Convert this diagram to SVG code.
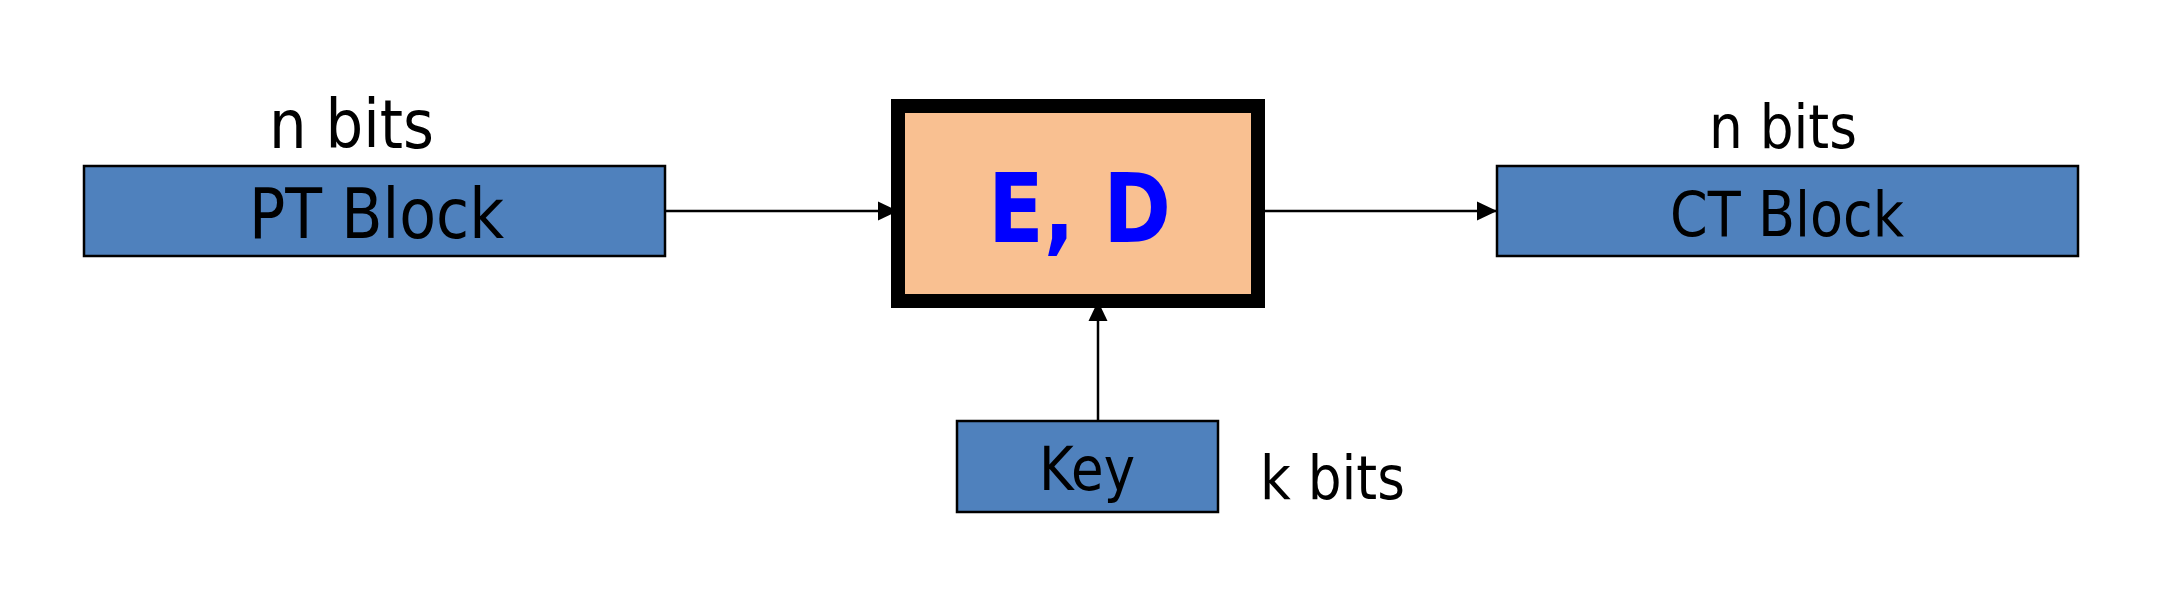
<svg xmlns="http://www.w3.org/2000/svg" width="2178" height="596" viewBox="0 0 2178 596">
<style>
.blk{fill:#4F81BD;stroke:#000;stroke-width:2.5}
.txt{font-family:"DejaVu Sans","Verdana",sans-serif;fill:#000}
.conn{stroke:#000;stroke-width:2.5;fill:none}
</style>
<defs>
<marker id="ah" markerUnits="userSpaceOnUse" markerWidth="22" markerHeight="22" refX="20" refY="10" orient="auto">
<path d="M0,0.5 L20,10 L0,19.5 Z" fill="#000"/>
</marker>
</defs>
<rect width="2178" height="596" fill="#fff"/>
<g id="connectors">
<line class="conn" x1="665" y1="211" x2="898" y2="211" marker-end="url(#ah)"/>
<line class="conn" x1="1265" y1="211" x2="1497" y2="211" marker-end="url(#ah)"/>
<line class="conn" x1="1098" y1="421" x2="1098" y2="301" marker-end="url(#ah)"/>
</g>
<g id="pt-block">
<rect class="blk" x="84" y="166" width="581" height="90"/>
<text class="txt" x="249" y="238" font-size="70" textLength="255" lengthAdjust="spacingAndGlyphs">PT Block</text>
<text class="txt" x="269" y="148" font-size="67" textLength="165" lengthAdjust="spacingAndGlyphs">n bits</text>
</g>
<g id="ed-box">
<rect x="898" y="106" width="360" height="195" fill="#F9C091" stroke="#000" stroke-width="14"/>
<text x="988" y="242" font-family="'DejaVu Sans',Verdana,sans-serif" font-weight="bold" font-size="96" fill="#0000FF" textLength="183" lengthAdjust="spacingAndGlyphs">E, D</text>
</g>
<g id="ct-block">
<rect class="blk" x="1497" y="166" width="581" height="90"/>
<text class="txt" x="1670" y="236" font-size="63" textLength="234" lengthAdjust="spacingAndGlyphs">CT Block</text>
<text class="txt" x="1709" y="148" font-size="61" textLength="148" lengthAdjust="spacingAndGlyphs">n bits</text>
</g>
<g id="key">
<rect class="blk" x="957" y="421" width="261" height="91"/>
<text class="txt" x="1039" y="490" font-size="60" textLength="96" lengthAdjust="spacingAndGlyphs">Key</text>
<text class="txt" x="1260" y="499" font-size="61" textLength="145" lengthAdjust="spacingAndGlyphs">k bits</text>
</g>
</svg>
